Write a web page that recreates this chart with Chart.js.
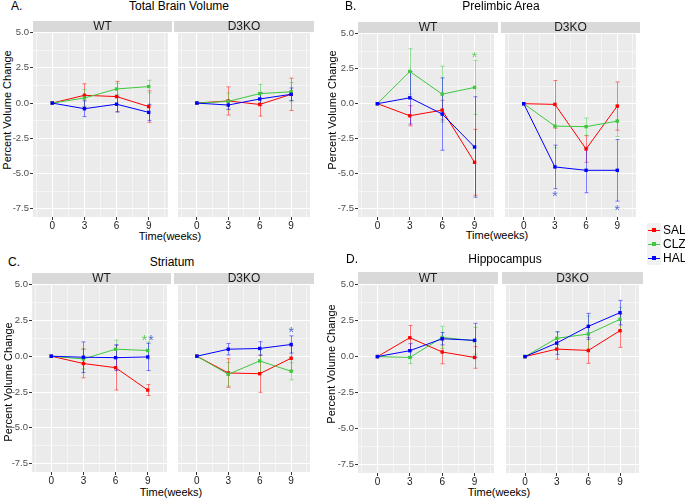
<!DOCTYPE html>
<html><head><meta charset="utf-8">
<script src="https://cdn.jsdelivr.net/npm/chart.js@4"></script>
<style>
html,body{margin:0;padding:0;background:#fff}
body{width:685px;height:499px;position:relative;overflow:hidden;font-family:"Liberation Sans",Arial,sans-serif;color:#000}
.t{position:absolute;white-space:nowrap}
.strip{position:absolute;background:#D9D9D9;color:#1A1A1A;font-size:12px;text-align:center}
canvas{position:absolute}
.key{position:absolute;width:14px;height:14px;background:#F2F2F2}
</style>
</head><body>
<script>
// ---------- data ----------
const weeks = [0, 3, 6, 9];
const groups = ['SAL', 'CLZ', 'HAL'];
const facets = ['WT', 'D3KO'];
const xTickVals = [0, 3, 6, 9];
const yTickVals = [-7.5, -5, -2.5, 0, 2.5, 5];

// A. Total Brain Volume  (rows: SAL, CLZ, HAL)
const brainWT      = [[0, 0.55, 0.46, -0.25], [0, 0.36, 1.00, 1.17], [0, -0.40, -0.08, -0.66]];
const brainWTErr   = [[0, 0.82, 1.08, 1.12],  [0, 0.60, 0.40, 0.45], [0, 0.56, 0.55, 0.57]];
const brainKO      = [[0, 0.15, -0.10, 0.62], [0, 0.12, 0.67, 0.80], [0, -0.14, 0.29, 0.62]];
const brainKOErr   = [[0, 1.00, 0.82, 1.15],  [0, 0.60, 0.65, 0.65], [0, 0.30, 0.45, 0.45]];
const brainWTStars = [];
const brainKOStars = [];

// B. Prelimbic Area
const prelimWT      = [[0, -0.86, -0.46, -4.18], [0, 2.30, 0.68, 1.16], [0, 0.42, -0.74, -3.09]];
const prelimWTErr   = [[0, 0.72, 0.70, 2.35],    [0, 1.62, 2.00, 1.93], [0, 1.87, 2.58, 3.58]];
const prelimKO      = [[0, -0.05, -3.23, -0.17], [0, -1.60, -1.64, -1.24], [0, -4.51, -4.75, -4.75]];
const prelimKOErr   = [[0, 1.70, 0.95, 1.72],    [0, 1.55, 0.62, 1.10],    [0, 1.55, 1.60, 2.20]];
const prelimWTStars = [[9, 3.55, 'CLZ']];
const prelimKOStars = [[3, -6.34, 'HAL'], [9, -7.34, 'HAL']];

// C. Striatum
const striWT      = [[0, -0.51, -0.80, -2.36], [0, -0.19, 0.49, 0.40], [0, -0.07, -0.10, -0.05]];
const striWTErr   = [[0, 1.00, 1.56, 0.38],    [0, 0.70, 0.63, 0.60], [0, 1.07, 0.90, 0.95]];
const striKO      = [[0, -1.17, -1.22, -0.14], [0, -1.26, -0.33, -1.05], [0, 0.49, 0.54, 0.82]];
const striKOErr   = [[0, 1.00, 1.30, 0.85],    [0, 0.82, 0.80, 0.60],    [0, 0.40, 0.47, 0.60]];
const striWTStars = [[8.7, 1.31, 'CLZ'], [9.3, 1.31, 'HAL']];
const striKOStars = [[9, 1.90, 'HAL']];

// D. Hippocampus
const hippoWT      = [[0, 1.31, 0.32, -0.06], [0, -0.06, 1.33, 1.10], [0, 0.41, 1.24, 1.13]];
const hippoWTErr   = [[0, 0.85, 0.82, 0.75],  [0, 0.42, 0.77, 0.93], [0, 0.49, 0.43, 1.18]];
const hippoKO      = [[0, 0.52, 0.43, 1.80],  [0, 1.27, 1.57, 2.59], [0, 0.94, 2.10, 3.05]];
const hippoKOErr   = [[0, 0.70, 0.90, 1.16],  [0, 0.45, 1.25, 0.83], [0, 0.78, 0.90, 0.85]];
const hippoWTStars = [];
const hippoKOStars = [];

// ---------- styling / layout ----------
const FONT = '"Liberation Sans", Arial, sans-serif';
const colors = {SAL: '#FF0000', CLZ: '#3DC93D', HAL: '#0000FF'};
const starColors = {SAL: 'rgba(255,40,40,0.85)', CLZ: 'rgba(70,200,70,0.85)', HAL: 'rgba(60,90,210,0.9)'};
const X_MIN = -1.8, X_MAX = 10.8, Y_MIN = -8.08, Y_MAX = 5.04;

const panels = [
  {letter: 'A.', title: 'Total Brain Volume', sets: [[brainWT, brainWTErr, brainWTStars], [brainKO, brainKOErr, brainKOStars]],
   g: {pt: 32, pb: 217, facetX: [[33, 172], [174, 314]], stripT: 21, yTitleX: 7, yTitleCY: 110, titleCY: 6, titleCX: 179, letterX: 11, xTitleCX: 170, xTitleCY: 236}},
  {letter: 'B.', title: 'Prelimbic Area', sets: [[prelimWT, prelimWTErr, prelimWTStars], [prelimKO, prelimKOErr, prelimKOStars]],
   g: {pt: 33, pb: 217, facetX: [[358, 498], [501, 640]], stripT: 22, yTitleX: 332, yTitleCY: 110, titleCY: 6, titleCX: 501, letterX: 345, xTitleCX: 497, xTitleCY: 235}},
  {letter: 'C.', title: 'Striatum', sets: [[striWT, striWTErr, striWTStars], [striKO, striKOErr, striKOStars]],
   g: {pt: 284, pb: 472, facetX: [[32, 171], [174, 314]], stripT: 273, yTitleX: 8, yTitleCY: 382, titleCY: 262, titleCX: 172, letterX: 8, xTitleCX: 171, xTitleCY: 492}},
  {letter: 'D.', title: 'Hippocampus', sets: [[hippoWT, hippoWTErr, hippoWTStars], [hippoKO, hippoKOErr, hippoKOStars]],
   g: {pt: 284, pb: 473, facetX: [[358, 498], [502, 643]], stripT: 272, yTitleX: 331, yTitleCY: 364, titleCY: 259, titleCX: 505, letterX: 346, xTitleCX: 499, xTitleCY: 492}}
];

function addText(txt, cx, cy, size, opts = {}) {
  const d = document.createElement('div');
  d.className = 't';
  d.textContent = txt;
  const w = 300, h = Math.round(size * 1.3);
  d.style.fontSize = size + 'px';
  d.style.lineHeight = h + 'px';
  d.style.height = h + 'px';
  d.style.top = (cy - h / 2) + 'px';
  if (opts.left !== undefined) { d.style.left = opts.left + 'px'; }
  else { d.style.left = (cx - w / 2) + 'px'; d.style.width = w + 'px'; d.style.textAlign = 'center'; }
  if (opts.rotate) d.style.transform = 'rotate(-90deg)';
  if (opts.color) d.style.color = opts.color;
  document.body.appendChild(d);
  return d;
}

const bgPlugin = {
  id: 'panelBg',
  beforeDraw(chart) {
    const {ctx, chartArea: a} = chart;
    ctx.save(); ctx.fillStyle = '#EBEBEB';
    ctx.fillRect(a.left, a.top, a.right - a.left, a.bottom - a.top);
    ctx.restore();
  }
};
const errPlugin = {
  id: 'errBars',
  beforeDatasetsDraw(chart) {
    const {ctx, scales: {x, y}} = chart;
    chart.data.datasets.forEach(ds => {
      ctx.save();
      ctx.strokeStyle = ds.borderColor; ctx.globalAlpha = 0.5; ctx.lineWidth = 1;
      ds.data.forEach((p, j) => {
        const e = ds.errs[j];
        if (!e) return;
        const px = Math.round(x.getPixelForValue(p.x)) + 0.5;
        const y1 = y.getPixelForValue(p.y + e), y2 = y.getPixelForValue(p.y - e);
        ctx.beginPath();
        ctx.moveTo(px, y1); ctx.lineTo(px, y2);
        ctx.moveTo(px - 2, y1); ctx.lineTo(px + 2, y1);
        ctx.moveTo(px - 2, y2); ctx.lineTo(px + 2, y2);
        ctx.stroke();
      });
      ctx.restore();
    });
  }
};
const starPlugin = {
  id: 'stars',
  afterDatasetsDraw(chart) {
    const stars = chart.options.plugins.stars.list || [];
    const {ctx, scales: {x, y}} = chart;
    ctx.save();
    ctx.font = '14px ' + FONT; ctx.textAlign = 'center'; ctx.textBaseline = 'alphabetic';
    stars.forEach(([wk, val, grp]) => {
      ctx.fillStyle = starColors[grp];
      ctx.fillText('*', x.getPixelForValue(wk), y.getPixelForValue(val) + 8);
    });
    ctx.restore();
  }
};

const isMajorY = v => Math.abs(v / 2.5 - Math.round(v / 2.5)) < 1e-6;
const isMajorX = v => Math.abs(v / 3 - Math.round(v / 3)) < 1e-6;
const xAll = [-1.5, 0, 1.5, 3, 4.5, 6, 7.5, 9, 10.5];
const yAll = [-7.5, -6.25, -5, -3.75, -2.5, -1.25, 0, 1.25, 2.5, 3.75, 5];

function makeFacet(g, fi, set) {
  const [means, errs, stars] = set;
  const isLeft = fi === 0;
  const [xl, xr] = g.facetX[fi];
  const WY = isLeft ? 28 : 0, PT = 8, HX = 18;
  const cv = document.createElement('canvas');
  const W = (xr - xl) + WY, H = (g.pb - g.pt) + PT + HX;
  cv.width = W; cv.height = H;
  cv.style.left = (xl - WY) + 'px'; cv.style.top = (g.pt - PT) + 'px';
  cv.style.width = W + 'px'; cv.style.height = H + 'px';
  document.body.appendChild(cv);

  // strip
  const s = document.createElement('div');
  s.className = 'strip';
  s.style.left = xl + 'px'; s.style.width = (xr - xl) + 'px';
  s.style.top = g.stripT + 'px'; s.style.height = (g.pt - g.stripT) + 'px';
  s.style.lineHeight = (g.pt - g.stripT) + 'px';
  s.textContent = facets[fi];
  document.body.appendChild(s);

  new Chart(cv, {
    type: 'line',
    data: {
      datasets: groups.map((grp, i) => ({
        label: grp,
        data: weeks.map((w, j) => ({x: w, y: means[i][j]})),
        errs: errs[i],
        borderColor: colors[grp], backgroundColor: colors[grp],
        borderWidth: 1, pointStyle: 'rect', pointRadius: 2.4, pointBorderWidth: 0,
        tension: 0, order: 2 - i
      }))
    },
    options: {
      responsive: false, animation: false, devicePixelRatio: 1,
      layout: {padding: {top: PT, left: 0, right: 0, bottom: 0}},
      plugins: {legend: {display: false}, tooltip: {enabled: false}, stars: {list: stars}},
      scales: {
        x: {
          type: 'linear', min: X_MIN, max: X_MAX,
          afterBuildTicks: sc => { sc.ticks = xAll.map(v => ({value: v})); },
          ticks: {callback: v => (isMajorX(v) && xTickVals.includes(v)) ? String(v) : '',
                  color: '#1A1A1A', font: {size: 10, family: FONT}, padding: 0, autoSkip: false, maxRotation: 0},
          grid: {color: '#FFFFFF', lineWidth: c => isMajorX(c.tick.value) ? 1 : 0.5,
                 tickLength: 3, tickWidth: 1,
                 tickColor: c => (isMajorX(c.tick.value) && xTickVals.includes(c.tick.value)) ? '#333333' : 'rgba(0,0,0,0)'},
          border: {display: false},
          afterFit: sc => { sc.height = HX; sc.paddingLeft = 0; sc.paddingRight = 0; }
        },
        y: {
          type: 'linear', min: Y_MIN, max: Y_MAX,
          afterBuildTicks: sc => { sc.ticks = yAll.map(v => ({value: v})); },
          ticks: {display: isLeft, callback: v => (isMajorY(v) && yTickVals.includes(v)) ? v.toFixed(1) : '',
                  color: '#4D4D4D', font: {size: 9.5, family: FONT}, padding: 1, autoSkip: false},
          grid: {color: '#FFFFFF', lineWidth: c => isMajorY(c.tick.value) ? 1 : 0.5,
                 drawTicks: isLeft, tickLength: 3, tickWidth: 1,
                 tickColor: c => isMajorY(c.tick.value) ? '#333333' : 'rgba(0,0,0,0)'},
          border: {display: false},
          afterFit: sc => { sc.width = WY; sc.paddingTop = 0; sc.paddingBottom = 0; }
        }
      }
    },
    plugins: [bgPlugin, errPlugin, starPlugin]
  });
}

panels.forEach(p => {
  const g = p.g;
  addText(p.letter, 0, g.titleCY, 12, {left: g.letterX});
  addText(p.title, g.titleCX, g.titleCY, 12);
  addText('Percent Volume Change', g.yTitleX, g.yTitleCY, 11, {rotate: true});
  addText('Time(weeks)', g.xTitleCX, g.xTitleCY, 11);
  p.sets.forEach((set, fi) => makeFacet(g, fi, set));
});

// legend
const legendY = [230, 244, 258];
groups.forEach((grp, i) => {
  const k = document.createElement('div');
  k.className = 'key';
  k.style.left = '647px'; k.style.top = (legendY[i] - 7) + 'px';
  k.innerHTML = '<div style="position:absolute;left:1px;top:6.5px;width:12px;height:1px;background:' + colors[grp] + '"></div>' +
                '<div style="position:absolute;left:5px;top:5px;width:4px;height:4px;background:' + colors[grp] + '"></div>';
  document.body.appendChild(k);
  addText(grp, 0, legendY[i], 12, {left: 663});
});
</script>
</body></html>
